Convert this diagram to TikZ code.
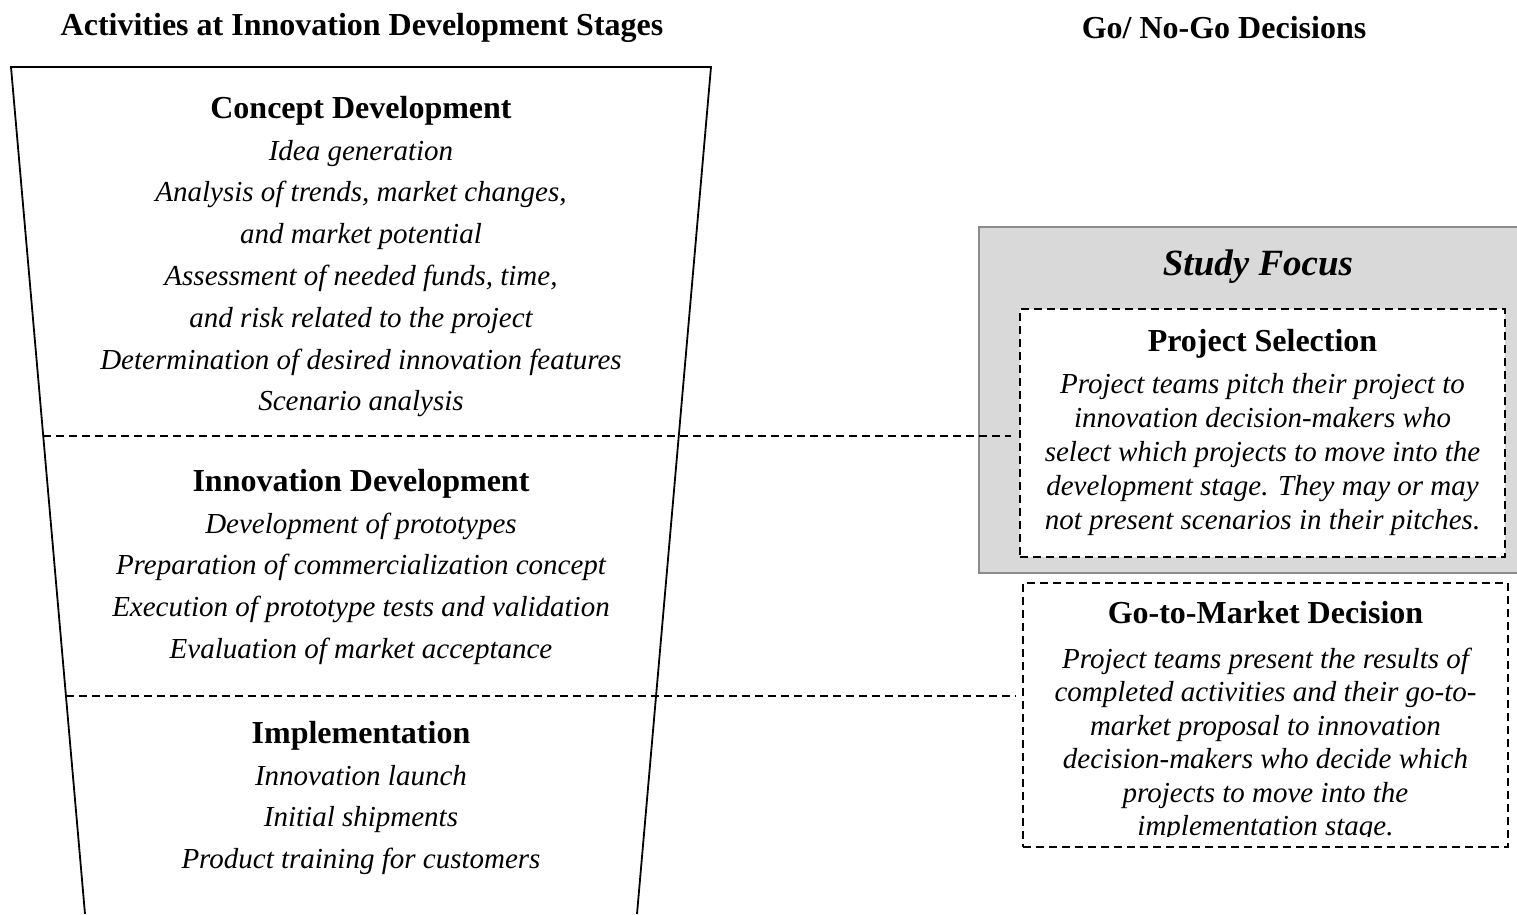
\documentclass[tikz,border=0pt]{standalone}
\usepackage{fontspec}
\setmainfont{Liberation Serif}
\usetikzlibrary{calc}
\definecolor{focusfill}{HTML}{D9D9D9}
\definecolor{focusedge}{HTML}{8C8C8C}
\begin{document}
\begin{tikzpicture}[x=1pt,y=-1pt,
  hd/.style={font=\fontsize{32}{38}\selectfont\bfseries, anchor=base, inner sep=0pt},
  it/.style={font=\fontsize{29}{34}\selectfont\itshape, anchor=base, inner sep=0pt},
  focus/.style={font=\fontsize{37}{44}\selectfont\bfseries\itshape, anchor=base, inner sep=0pt},
  dline/.style={line width=1.6pt, dash pattern=on 8pt off 5pt},
  dbox/.style={draw, fill=white, line width=1.6pt, dash pattern=on 8pt off 5pt, inner sep=0pt},
  funnelline/.style={line width=1.8pt, line join=miter},
  focusbox/.style={draw=focusedge, fill=focusfill, line width=1.8pt, inner sep=0pt},
  ]
\useasboundingbox (0,0) rectangle (1517,914);

% titles
\node[hd] (t1) at (362,35) {Activities at Innovation Development Stages};
\node[hd] (t2) at (1224,38) {Go/ No-Go Decisions};

% funnel
\coordinate (ftl) at (11,67);
\coordinate (ftr) at (711,67);
\coordinate (fbl) at (85,914);
\coordinate (fbr) at (637,914);
\draw[funnelline] (fbl) -- (ftl) -- (ftr) -- (fbr);

% stage texts
\node[hd] (cd) at (361,118) {Concept Development};
\foreach \s [count=\i] in {Idea generation, {Analysis of trends, market changes,}, and market potential, {Assessment of needed funds, time,}, and risk related to the project, Determination of desired innovation features, Scenario analysis}
  \node[it] (cd\i) at (361,{160+41.8*(\i-1)}) {\s};

\node[hd] (id) at (361,491) {Innovation Development};
\foreach \s [count=\i] in {Development of prototypes, Preparation of commercialization concept, Execution of prototype tests and validation, Evaluation of market acceptance}
  \node[it] (id\i) at (361,{533+41.8*(\i-1)}) {\s};

\node[hd] (im) at (361,743) {Implementation};
\foreach \s [count=\i] in {Innovation launch, Initial shipments, Product training for customers}
  \node[it] (im\i) at (361,{785+41.8*(\i-1)}) {\s};

% study focus box
\node[focusbox, minimum width=546pt, minimum height=346pt] (sf) at (1252,400) {};
\node[focus] (sft) at (1258,275) {Study Focus};

% project selection box
\node[dbox, minimum width=485pt, minimum height=248pt] (ps) at (1262.5,433) {};
\node[hd] (pst) at (1262.5,351) {Project Selection};
\foreach \s [count=\i] in {Project teams pitch their project to, innovation decision-makers who, select which projects to move into the, development stage. They may or may, not present scenarios in their pitches.}
  \node[it] (ps\i) at (1262.5,{393+34*(\i-1)}) {\s};

% go-to-market box
\node[dbox, minimum width=485pt, minimum height=264pt] (gm) at (1265.5,715) {};
\node[hd] (gmt) at (1265.5,623) {Go-to-Market Decision};
\begin{scope}
\clip (1000,640) rectangle (1517,836);
\foreach \s [count=\i] in {Project teams present the results of, completed activities and their go-to-, market proposal to innovation, decision-makers who decide which, projects to move into the, implementation stage.}
  \node[it] (gm\i) at (1265.5,{668+33.5*(\i-1)}) {\s};
\end{scope}

% dashed stage separators
\coordinate (d1l) at ($(ftl)!0.43566!(fbl)$);
\coordinate (d2l) at ($(ftl)!0.74262!(fbl)$);
\coordinate (psw) at ([xshift=-8pt]ps.west);
\coordinate (gmw) at ([xshift=-7pt]gm.west);
\draw[dline] (d1l) -- (psw |- d1l);
\draw[dline] (d2l) -- (gmw |- d2l);
\end{tikzpicture}
\end{document}
